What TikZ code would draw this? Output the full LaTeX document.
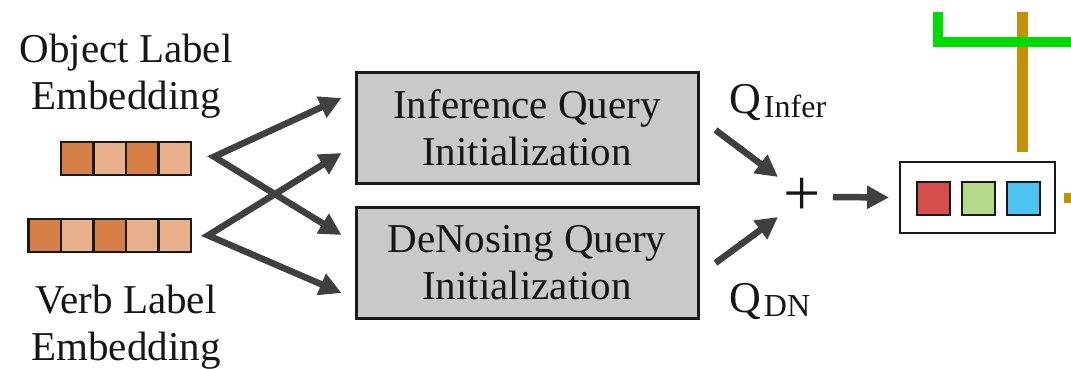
\documentclass[tikz,border=0pt]{standalone}
\usepackage{fontspec}
\setmainfont{Liberation Serif}
\usetikzlibrary{arrows.meta,calc}

\definecolor{inkgray}{RGB}{64,64,64}
\definecolor{boxgray}{RGB}{201,201,201}
\definecolor{txt}{RGB}{22,22,22}
\definecolor{orangedark}{RGB}{214,128,72}
\definecolor{orangelight}{RGB}{232,177,140}
\definecolor{qred}{RGB}{212,78,78}
\definecolor{qgreen}{RGB}{181,217,139}
\definecolor{qblue}{RGB}{77,195,240}
\definecolor{wiregreen}{RGB}{0,220,0}
\definecolor{wiregold}{RGB}{196,146,8}

\tikzset{
  bigtip/.tip={Triangle[length=22pt,width=22pt]},
  lbl/.style={font=\fontsize{41}{47}\selectfont, text=txt, align=center, inner sep=0pt},
  cell/.style={draw=black!90, line width=2.5pt, minimum width=32.5pt, minimum height=33pt, inner sep=0pt},
  qcell/.style={draw=black!90, line width=2.2pt, minimum width=33pt, minimum height=33pt, inner sep=0pt},
  initbox/.style={draw=black!90, line width=3pt, fill=boxgray, minimum width=342pt, minimum height=111pt,
                  font=\fontsize{41}{47}\selectfont, text=txt, align=center},
  arr/.style={draw=inkgray, line width=6.5pt, -{bigtip}},
  twoarr/.style={draw=inkgray, line width=6.5pt, {bigtip}-{bigtip}, line join=miter},
  wire/.style={line width=10.5pt}
}

\begin{document}
\begin{tikzpicture}[x=1pt,y=-1pt]
\useasboundingbox (0,0) rectangle (1071,369);

% label texts
\node[lbl] (objtxt) at (126,76) {Object Label\\Embedding};
\node[lbl] (verbtxt) at (126,327) {Verb Label\\Embedding};

% object label embedding (4 cells)
\node[cell, fill=orangedark]  (o1) at (77.0,158.7) {};
\node[cell, fill=orangelight] (o2) at (109.5,158.7) {};
\node[cell, fill=orangedark]  (o3) at (142.0,158.7) {};
\node[cell, fill=orangelight] (o4) at (174.5,158.7) {};

% verb label embedding (5 cells)
\node[cell, fill=orangedark]  (v1) at (44.5,235.4) {};
\node[cell, fill=orangelight] (v2) at (77.0,235.4) {};
\node[cell, fill=orangedark]  (v3) at (109.5,235.4) {};
\node[cell, fill=orangelight] (v4) at (142.0,235.4) {};
\node[cell, fill=orangelight] (v5) at (174.5,235.4) {};

% query initialization blocks
\node[initbox] (inf) at (527,128) {Inference Query\\Initialization};
\node[initbox] (dn)  at (527,262.5) {DeNosing Query\\Initialization};

% split arrows from the embeddings into both blocks
\coordinate (objApex)  at ($(o4.east)+(22,-2)$);
\coordinate (verbApex) at ($(v5.east)+(16,0)$);
\draw[twoarr] ($(inf.west)+(-13,-30)$) -- (objApex) -- ($(dn.west)+(-13,-27.5)$);
\draw[twoarr] ($(inf.west)+(-13,25)$) -- (verbApex) -- ($(dn.west)+(-13,30.5)$);

% query labels
\node[lbl, anchor=base west] (qinf) at (729,113)
  {{\fontsize{44}{44}\selectfont Q}\hspace{3pt}{\fontsize{32}{32}\selectfont\raisebox{-5pt}{Infer}}};
\node[lbl, anchor=base west] (qdn) at (729,312)
  {{\fontsize{44}{44}\selectfont Q}\hspace{3pt}{\fontsize{32}{32}\selectfont\raisebox{-4pt}{DN}}};

% sum
\node[font=\fontsize{66}{66}\selectfont, text=txt, inner sep=0pt] (plus) at (802,197) {+};
\coordinate (infOut) at ($(inf.east)+(16,2)$);
\coordinate (dnOut)  at ($(dn.east)+(16,0.5)$);
\draw[arr] (infOut) -- ($(plus.center)+(-24,-20)$);
\draw[arr] (dnOut)  -- ($(plus.center)+(-24,20)$);

% combined query
\node[draw=black!90, line width=2pt, minimum width=155pt, minimum height=71pt, inner sep=0pt]
  (qbox) at (977.5,197.5) {};
\node[qcell, fill=qred]   (qr) at (933.5,198.5) {};
\node[qcell, fill=qgreen] (qg) at (978.5,198.5) {};
\node[qcell, fill=qblue]  (qb) at (1023.5,198.5) {};
\draw[arr] ($(plus.center)+(31,0)$) -- ($(qbox.west)+(-10,0)$);

% wires on the right
\coordinate (goldTop) at (1022.5,12);
\coordinate (goldEnd) at (1022.5,152);
\draw[wire, draw=wiregold] (goldTop) -- (goldEnd);
\coordinate (greenTop) at (938,12);
\coordinate (greenCorner) at (938,42);
\coordinate (greenEnd) at (1072,42);
\draw[wire, draw=wiregreen, line join=miter] (greenTop) -- (greenCorner) -- (greenEnd);
\coordinate (stubEnd) at (1072,197.5);
\draw[line width=10pt, draw=wiregold] ($(qbox.east)+(8,0)$) -- (stubEnd);
\end{tikzpicture}
\end{document}
